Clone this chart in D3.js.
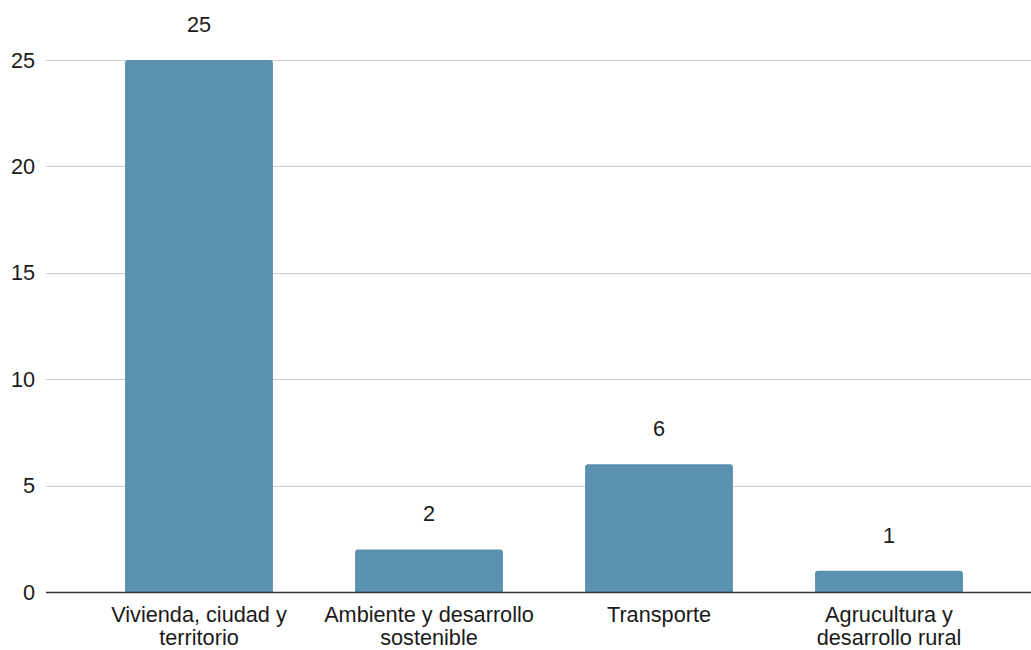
<!DOCTYPE html>
<html>
<head>
<meta charset="utf-8">
<script src="https://cdn.jsdelivr.net/npm/d3@7"></script>
<style>
  html, body { margin: 0; padding: 0; background: #fff; }
  svg { display: block; font-family: "Liberation Sans", Arial, sans-serif; }
</style>
</head>
<body>
<svg id="chart" width="1031" height="650"></svg>
<script>
// Categories (each label split into its display lines) and counts
const categories = [
  ["Vivienda, ciudad y", "territorio"],
  ["Ambiente y desarrollo", "sostenible"],
  ["Transporte"],
  ["Agrucultura y", "desarrollo rural"]
];
const values = [25, 2, 6, 1];
const yTicks = [0, 5, 10, 15, 20, 25];

const svg = d3.select("#chart");
const gridLeft = 46, gridRight = 1031;
const plotTop = 60, plotBottom = 592;
const fontSize = 21.7;

const keys = categories.map(c => c.join(" "));
const x = d3.scaleBand()
  .domain(keys)
  .range([84, 1004])
  .paddingInner(0.357)
  .paddingOuter(0.1785);

const y = d3.scaleLinear().domain([0, 25]).range([plotBottom, plotTop]);

// Horizontal gridlines
svg.append("g")
  .selectAll("line")
  .data(yTicks.filter(t => t !== 0))
  .join("line")
  .attr("x1", gridLeft).attr("x2", gridRight)
  .attr("y1", d => Math.round(y(d)) + 0.5)
  .attr("y2", d => Math.round(y(d)) + 0.5)
  .attr("stroke", "#cccccc")
  .attr("stroke-width", 1);

// Y axis labels
svg.append("g")
  .selectAll("text")
  .data(yTicks)
  .join("text")
  .attr("x", 35)
  .attr("y", d => y(d))
  .attr("dy", "0.35em")
  .attr("text-anchor", "end")
  .attr("font-size", fontSize)
  .attr("fill", "#1a1a1a")
  .text(d => d);

// Bars with slightly rounded top corners
const r = 3;
function barPath(x0, w, yTop, yBase) {
  return `M${x0},${yBase}V${yTop + r}Q${x0},${yTop} ${x0 + r},${yTop}` +
         `H${x0 + w - r}Q${x0 + w},${yTop} ${x0 + w},${yTop + r}V${yBase}Z`;
}
svg.append("g")
  .selectAll("path")
  .data(values)
  .join("path")
  .attr("d", (d, i) => barPath(x(keys[i]), x.bandwidth(), y(d), y(0)))
  .attr("fill", "#5a91ae");

// Value labels above bars
svg.append("g")
  .selectAll("text")
  .data(values)
  .join("text")
  .attr("x", (d, i) => x(keys[i]) + x.bandwidth() / 2)
  .attr("y", d => y(d) - 28)
  .attr("text-anchor", "middle")
  .attr("font-size", fontSize)
  .attr("fill", "#1a1a1a")
  .text(d => d);

// Baseline
svg.append("line")
  .attr("x1", gridLeft).attr("x2", gridRight)
  .attr("y1", y(0) + 0.5).attr("y2", y(0) + 0.5)
  .attr("stroke", "#333")
  .attr("stroke-width", 1.3);

// Category labels
const cat = svg.append("g")
  .selectAll("text")
  .data(categories)
  .join("text")
  .attr("x", (d, i) => x(keys[i]) + x.bandwidth() / 2)
  .attr("y", 622)
  .attr("text-anchor", "middle")
  .attr("font-size", fontSize)
  .attr("fill", "#1a1a1a");
cat.selectAll("tspan")
  .data(d => d)
  .join("tspan")
  .attr("x", function() { return d3.select(this.parentNode).attr("x"); })
  .attr("dy", (d, j) => j === 0 ? 0 : 23)
  .text(d => d);
</script>
</body>
</html>
